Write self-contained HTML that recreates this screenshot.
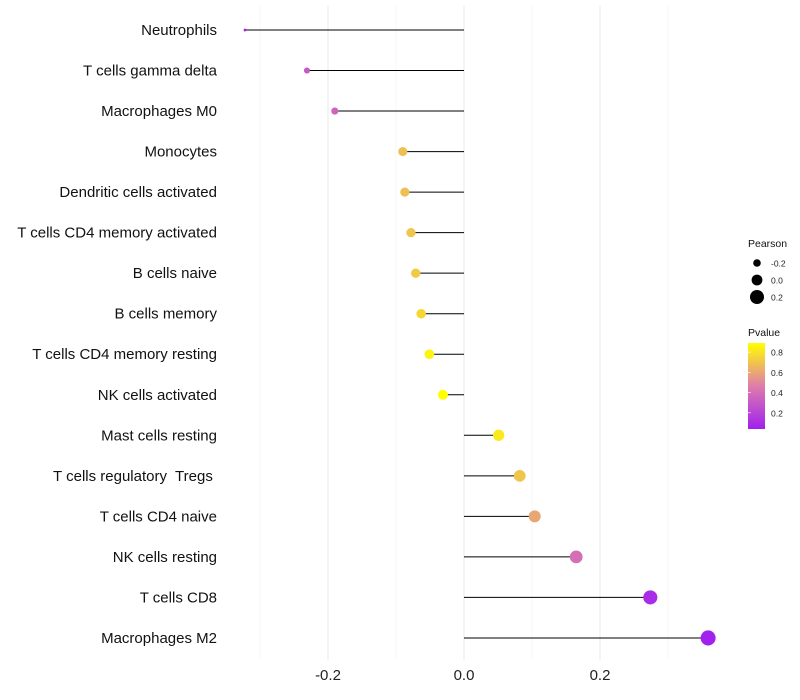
<!DOCTYPE html>
<html><head><meta charset="utf-8"><style>body{margin:0;background:#fff}svg{display:block;font-family:"Liberation Sans",sans-serif}text{white-space:pre}</style></head>
<body>
<svg id="c" width="800" height="700"></svg>
<script>
const categories=["Neutrophils","T cells gamma delta","Macrophages M0","Monocytes","Dendritic cells activated","T cells CD4 memory activated","B cells naive","B cells memory","T cells CD4 memory resting","NK cells activated","Mast cells resting","T cells regulatory  Tregs ","T cells CD4 naive","NK cells resting","T cells CD8","Macrophages M2"];
const pearson=[-0.322,-0.231,-0.190,-0.090,-0.087,-0.078,-0.071,-0.063,-0.051,-0.031,0.051,0.082,0.104,0.165,0.274,0.359];
const pvalue=[0.05,0.3,0.35,0.68,0.68,0.7,0.72,0.76,0.85,0.9,0.82,0.7,0.6,0.4,0.1,0.05];
const xTicks=[-0.2,0.0,0.2];
const xMinor=[-0.3,-0.1,0.1,0.3];
const sizeTicks=[-0.2,0.0,0.2];
const colorTicks=[0.2,0.4,0.6,0.8];
const NS="http://www.w3.org/2000/svg",svg=document.getElementById('c');
const X=v=>464+v*680, Y=i=>30+i*40.53;
const R=v=>Math.sqrt(Math.max(2,2+(v+0.322)*80));
const CB=v=>429-(v-0.04)/(0.89-0.04)*86;
function col(p){const t=Math.max(0,Math.min(1,(p-0.04)/0.85));
 const a=[160,32,240],m=[222,125,170],b=[255,255,0];let c;
 if(t<0.5){const u=t/0.5;c=a.map((x,k)=>x+(m[k]-x)*u)}else{const u=(t-0.5)/0.5;c=m.map((x,k)=>x+(b[k]-x)*u)}
 return `rgb(${c.map(Math.round).join(',')})`;}
function el(t,a,txt){const e=document.createElementNS(NS,t);for(const k in a)e.setAttribute(k,a[k]);if(txt!==undefined)e.textContent=txt;svg.appendChild(e);return e;}
xMinor.forEach(v=>{const e=el('line',{x1:X(v),x2:X(v),y1:5,y2:660,stroke:'#f2f2f2','stroke-width':0.6});

});
xTicks.forEach(v=>{const e=el('line',{x1:X(v),x2:X(v),y1:5,y2:660,stroke:'#ebebeb','stroke-width':1.1});


const t=el('text',{x:X(v),y:680,'text-anchor':'middle','font-size':15,fill:'#222'},v.toFixed(1));

});
categories.forEach((c,i)=>{const y=Y(i);
const t=el('text',{x:217,y:y+5,'text-anchor':'end','font-size':15,fill:'#111'},c);


const l=el('line',{x1:X(0),x2:X(pearson[i]),y1:y,y2:y,stroke:'#000','stroke-width':1});


const p=el('circle',{cx:X(pearson[i]),cy:y,r:R(pearson[i]),fill:col(pvalue[i])});

});
let t=el('text',{x:748,y:247,'font-size':10.5,fill:'#111'},'Pearson');


sizeTicks.forEach((v,k)=>{const y=263+k*17;
const c=el('circle',{cx:757,cy:y,r:3.8+k*1.6,fill:'#000'});


const s=el('text',{x:771,y:y+3.5,'font-size':8.5,fill:'#222'},v.toFixed(1));

});
t=el('text',{x:748,y:336,'font-size':10.5,fill:'#111'},'Pvalue');


const defs=el('defs',{});const g=document.createElementNS(NS,'linearGradient');g.setAttribute('id','gr');g.setAttribute('x1',0);g.setAttribute('y1',1);g.setAttribute('x2',0);g.setAttribute('y2',0);defs.appendChild(g);
[0,0.25,0.5,0.75,1].forEach(f=>{const s=document.createElementNS(NS,'stop');s.setAttribute('offset',f);s.setAttribute('stop-color',col(0.04+f*0.85));g.appendChild(s);});
const bar=el('rect',{x:748,y:343,width:17,height:86,fill:'url(#gr)'});


colorTicks.forEach(v=>{const s=el('text',{x:771,y:CB(v)+3.5,'font-size':8.5,fill:'#222'},v.toFixed(1));


const l=el('line',{x1:748,x2:751,y1:CB(v),y2:CB(v),stroke:'#fff','stroke-width':0.6});

});
</script>
</body></html>
